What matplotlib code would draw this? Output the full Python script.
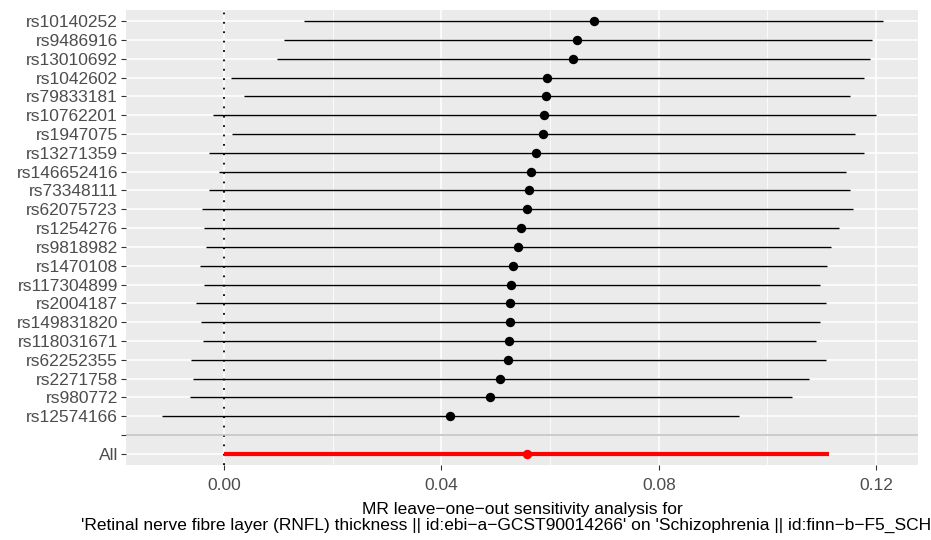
import matplotlib.pyplot as plt
import numpy as np

plt.rcParams['font.family'] = ['Liberation Sans', 'DejaVu Sans']

# SNPs, top to bottom
snps = ['rs10140252', 'rs9486916', 'rs13010692', 'rs1042602', 'rs79833181',
        'rs10762201', 'rs1947075', 'rs13271359', 'rs146652416', 'rs73348111',
        'rs62075723', 'rs1254276', 'rs9818982', 'rs1470108', 'rs117304899',
        'rs2004187', 'rs149831820', 'rs118031671', 'rs62252355', 'rs2271758',
        'rs980772', 'rs12574166']
b = [0.0680, 0.0650, 0.0643, 0.0594, 0.0593, 0.0588, 0.0587, 0.0574, 0.0565, 0.0561,
     0.0557, 0.0547, 0.0541, 0.0531, 0.0528, 0.0526, 0.0526, 0.0525, 0.0522, 0.0508,
     0.0490, 0.0416]
lo = [0.0148, 0.0110, 0.0098, 0.0012, 0.0036, -0.0020, 0.0014, -0.0027, -0.0010, -0.0028,
      -0.0040, -0.0036, -0.0034, -0.0045, -0.0037, -0.0051, -0.0042, -0.0038, -0.0061, -0.0058,
      -0.0063, -0.0114]
up = [0.1213, 0.1193, 0.1188, 0.1178, 0.1152, 0.1199, 0.1161, 0.1178, 0.1144, 0.1152,
      0.1157, 0.1131, 0.1117, 0.1109, 0.1096, 0.1108, 0.1097, 0.1089, 0.1107, 0.1077,
      0.1045, 0.0948]
all_b, all_lo, all_up = 0.0557, 0.0, 0.1114

# y levels: All=1, blank=2, SNPs from 3 upwards (last SNP at bottom)
n = len(snps)
y_snp = np.arange(n + 2, 2, -1)
labels = ['All', ''] + snps[::-1]
yticks = np.arange(1, n + 3)

fig = plt.figure(figsize=(9.31, 5.4), dpi=100)
ax = fig.add_axes([126 / 931, 75 / 540, 792 / 931, 455 / 540])
ax.set_facecolor('#EBEBEB')
for s in ax.spines.values():
    s.set_visible(False)

ax.set_xlim(-0.01804, 0.1277)
ax.set_ylim(0.4, n + 2.6)
ax.set_xticks([0.0, 0.04, 0.08, 0.12])
ax.set_xticklabels(['0.00', '0.04', '0.08', '0.12'])
ax.set_xticks([0.02, 0.06, 0.10], minor=True)
ax.set_yticks(yticks)
ax.set_yticklabels(labels)
ax.grid(which='major', color='white', linewidth=1.1)
ax.grid(which='minor', axis='x', color='white', linewidth=0.55)
ax.set_axisbelow(True)
ax.tick_params(axis='both', which='major', colors='#333333', labelcolor='#4D4D4D',
               labelsize=12.5, length=3.6, width=0.8, pad=2.2)
ax.tick_params(axis='x', which='major', pad=5.5)
ax.tick_params(which='minor', length=0)

ax.axvline(0, color='black', linestyle=(0, (1, 4.2)), linewidth=1.3, zorder=2)
ax.hlines(y_snp, lo, up, color='black', linewidth=1.0, zorder=3)
ax.scatter(b, y_snp, s=46, color='black', zorder=4, linewidths=0)
ax.axhline(2, color='#BEBEBE', linewidth=1.1, zorder=2)
ax.hlines(1, all_lo, all_up, color='red', linewidth=3.0, zorder=3)
ax.scatter([all_b], [1], s=46, color='red', zorder=4, linewidths=0)

ax.set_xlabel("MR leave\u2212one\u2212out sensitivity analysis for\n"
              "'Retinal nerve fibre layer (RNFL) thickness || id:ebi\u2212a\u2212GCST90014266' "
              "on 'Schizophrenia || id:finn\u2212b\u2212F5_SCHIZO'",
              fontsize=12.5, color='black', linespacing=1.05, labelpad=7)

fig.savefig('out.png', dpi=100)
